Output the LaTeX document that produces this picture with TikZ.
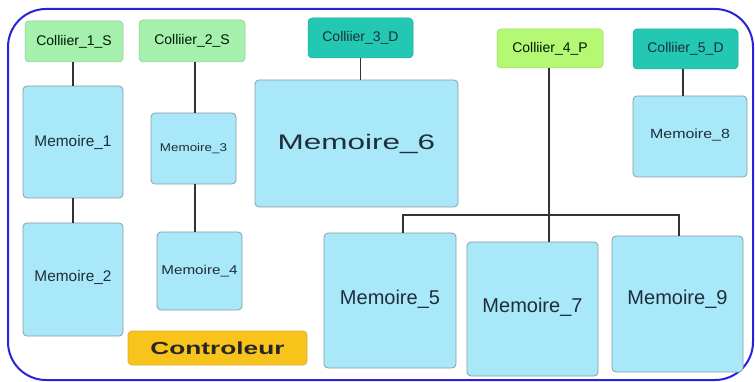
\documentclass[tikz,border=0pt]{standalone}
\usepackage{fontspec}
\setmainfont{Liberation Sans}
\newfontfamily\stA[FakeStretch=1.2]{Liberation Sans}
\newfontfamily\stB[FakeStretch=1.5]{Liberation Sans}
\usetikzlibrary{calc}
\definecolor{memfill}{HTML}{A8E8F8}
\definecolor{memdraw}{HTML}{8A9EA8}
\definecolor{greenA}{HTML}{A4F0AC}
\definecolor{greenB}{HTML}{B4F874}
\definecolor{tealC}{HTML}{22C8B2}
\definecolor{ctrlfill}{HTML}{F8C41C}
\definecolor{ctrldraw}{HTML}{E0B040}
\definecolor{outerblue}{HTML}{2A22D8}
\definecolor{linegray}{HTML}{333333}
\definecolor{txtdark}{HTML}{1E2E3A}
\tikzset{
  box/.style={rectangle, rounded corners=4pt, inner sep=0pt, text=txtdark},
  mem/.style={box, fill=memfill, draw=memdraw, line width=0.8pt},
  colg/.style={box, fill=greenA, draw=greenA!85!black, line width=0.5pt, font=\fontsize{14}{16}\selectfont, text=black!75!green!40!black},
  coll/.style={box, fill=greenB, draw=greenB!85!black, line width=0.5pt, font=\fontsize{14}{16}\selectfont, text=black!75!green!40!black},
  colt/.style={box, fill=tealC, draw=tealC!85!black, line width=0.5pt, font=\fontsize{14}{16}\selectfont, text=txtdark},
  ctrl/.style={box, fill=ctrlfill, draw=ctrldraw, line width=0.8pt, font=\stB\bfseries\fontsize{17.5}{20}\selectfont, text=black!85},
  conn/.style={draw=linegray, line width=1.5pt}
}
\newcommand{\up}[2]{\raisebox{#1}{#2}}
\begin{document}
\begin{tikzpicture}[x=1pt,y=-1pt]
\useasboundingbox (0,0) rectangle (755,382);
\fill[white] (0,0) rectangle (755,382);
\draw[outerblue, line width=2pt, rounded corners=38pt] (8,9) rectangle (753,380);

% Colliers
\node[colg, minimum width=98pt, minimum height=41pt] (c1) at (74,41.5) {Colliier\_1\_S};
\node[colg, minimum width=106pt, minimum height=42pt] (c2) at (192,41) {Colliier\_2\_S};
\node[colt, minimum width=105pt, minimum height=40pt] (c3) at (360.5,38) {Colliier\_3\_D};
\node[coll, minimum width=106pt, minimum height=39pt] (c4) at (550,48.5) {Colliier\_4\_P};
\node[colt, minimum width=105pt, minimum height=40pt] (c5) at (685.5,49) {Colliier\_5\_D};

% Memoires
\node[mem, minimum width=100pt, minimum height=112pt, font=\fontsize{15.4}{18}\selectfont] (m1) at (73,142) {Memoire\_1};
\node[mem, minimum width=100pt, minimum height=113pt, font=\fontsize{15.4}{18}\selectfont] (m2) at (73,279.5) {\up{7pt}{Memoire\_2}};
\node[mem, minimum width=85pt, minimum height=71pt, font=\stA\fontsize{11.2}{13}\selectfont] (m3) at (193.5,148.5) {Memoire\_3};
\node[mem, minimum width=85pt, minimum height=78pt, font=\stA\fontsize{12.7}{15}\selectfont] (m4) at (199.5,271) {Memoire\_4};
\node[mem, minimum width=203pt, minimum height=127pt, font=\stB\fontsize{21}{24}\selectfont] (m6) at (356.5,143.5) {\up{3pt}{Memoire\_6}};
\node[mem, minimum width=114pt, minimum height=81pt, font=\stA\fontsize{13.3}{15}\selectfont] (m8) at (690,136.5) {\up{6pt}{Memoire\_8}};
\node[mem, minimum width=132pt, minimum height=135pt, font=\fontsize{20}{23}\selectfont] (m5) at (390,300.5) {\up{6pt}{Memoire\_5}};
\node[mem, minimum width=131pt, minimum height=134pt, font=\fontsize{20}{23}\selectfont] (m7) at (532.5,309) {\up{7pt}{Memoire\_7}};
\node[mem, minimum width=131pt, minimum height=136pt, font=\fontsize{20}{23}\selectfont] (m9) at (677.5,304) {\up{13pt}{Memoire\_9}};

% Controleur
\node[ctrl, minimum width=179pt, minimum height=34pt] (ct) at (217.5,348) {Controleur};

% Connectors
\draw[conn] (m1.north |- c1.south) -- (m1.north);
\draw[conn] (m1.south) -- (m2.north);
\coordinate (x2) at (195,0);
\draw[conn] (x2 |- c2.south) -- (x2 |- m3.north);
\draw[conn] (x2 |- m3.south) -- (x2 |- m4.north);
\draw[conn] (c3.south) -- (c3.south |- m6.north);
\coordinate (x5) at (683,0);
\draw[conn] (x5 |- c5.south) -- (x5 |- m8.north);
\coordinate (x4) at (549,0);
\draw[conn] (x4 |- c4.south) -- (x4 |- m7.north);
\coordinate (j5) at (403,215);
\coordinate (j9) at (679,215);
\draw[conn] (j5 |- m5.north) -- (j5) -- (j9) -- (j9 |- m9.north);
\end{tikzpicture}
\end{document}
